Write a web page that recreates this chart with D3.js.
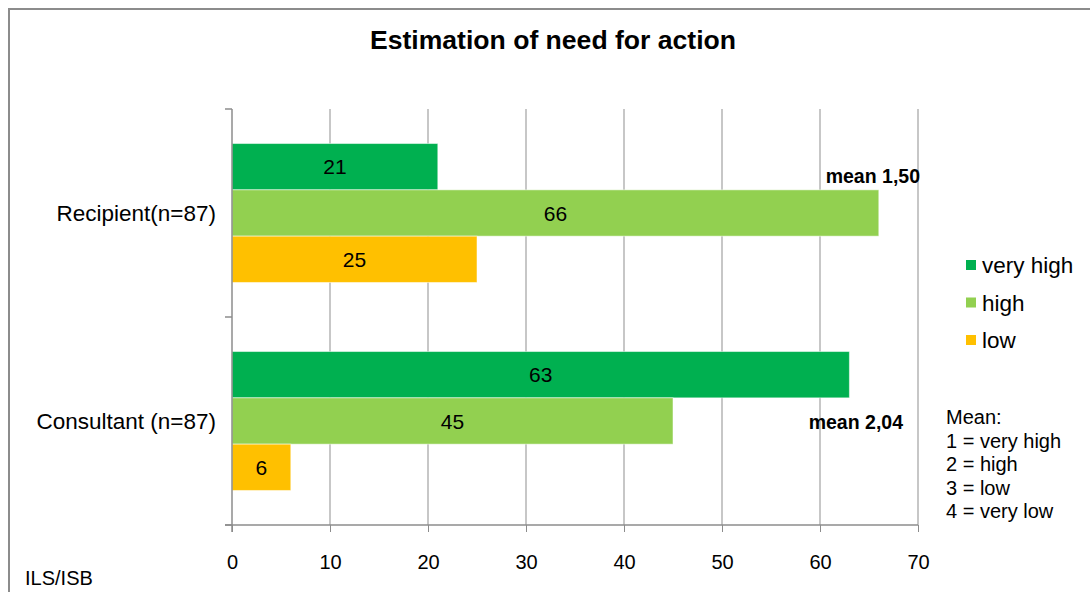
<html>
    <head>
        <title>Estimation of need for action</title>
        <style>
            body { margin: 0; background: #fff; }
            svg text { font-family: "Liberation Sans", Arial, sans-serif; fill: #000; }
        </style>
    </head>
    <body>
        <svg class="chart"></svg>
        <script src="https://d3js.org/d3.v7.min.js"></script>
        <script>
            var categories = ['Recipient(n=87)', 'Consultant (n=87)'];
            var seriesNames = ['very high', 'high', 'low'];
            var seriesColors = ['#00B050', '#92D050', '#FFC000'];
            var veryHigh = [21, 63];
            var high = [66, 45];
            var low = [25, 6];
            var means = ['mean 1,50', 'mean 2,04'];
            var xTicks = [0, 10, 20, 30, 40, 50, 60, 70];
            var meanNotes = ['Mean:', '1 = very high', '2 = high', '3 = low', '4 = very low'];

            var series = [veryHigh, high, low];
            var width = 1090, height = 592;

            var svg = d3.select('.chart')
                .attr('width', width)
                .attr('height', height);

            // outer frame
            svg.append('rect')
                .attr('x', 9).attr('y', 9)
                .attr('width', width + 10).attr('height', height + 10)
                .attr('fill', 'none')
                .attr('stroke', '#8c8c8c')
                .attr('stroke-width', 2);

            svg.append('text')
                .attr('x', 553).attr('y', 49)
                .attr('text-anchor', 'middle')
                .style('font-size', '25px')
                .style('font-weight', 'bold')
                .attr('textLength', 366)
                .attr('lengthAdjust', 'spacingAndGlyphs')
                .text('Estimation of need for action');

            var x = d3.scaleLinear().domain([0, 70]).range([232, 918]);
            var y = d3.scaleBand().domain(categories).range([109, 525])
                .paddingInner(0.332).paddingOuter(0.166);
            var ySub = d3.scaleBand().domain(d3.range(series.length)).range([0, y.bandwidth()]);

            // gridlines
            svg.append('g').selectAll('line').data(xTicks.slice(1)).enter()
                .append('line')
                .attr('x1', function(d) { return x(d); })
                .attr('x2', function(d) { return x(d); })
                .attr('y1', 109).attr('y2', 525)
                .attr('stroke', '#8f8f8f').attr('stroke-width', 1);

            // bars
            var groups = svg.append('g').selectAll('g').data(categories).enter()
                .append('g')
                .attr('transform', function(d) { return 'translate(0,' + y(d) + ')'; });

            groups.each(function(cat, ci) {
                var g = d3.select(this);
                series.forEach(function(s, si) {
                    g.append('rect')
                        .attr('x', x(0))
                        .attr('y', ySub(si))
                        .attr('width', x(s[ci]) - x(0))
                        .attr('height', ySub.bandwidth())
                        .attr('fill', seriesColors[si])
                        .attr('stroke', '#ffffff')
                        .attr('stroke-opacity', 0.5)
                        .attr('stroke-width', 1);
                    g.append('text')
                        .attr('x', (x(s[ci]) + x(0)) / 2)
                        .attr('y', ySub(si) + ySub.bandwidth() / 2)
                        .attr('dy', '0.36em')
                        .attr('text-anchor', 'middle')
                        .style('font-size', '21px')
                        .text(s[ci]);
                });
            });

            // mean annotations
            svg.append('text')
                .attr('x', 920).attr('y', y(categories[0]) + ySub(0) + ySub.bandwidth() - 7)
                .attr('text-anchor', 'end')
                .style('font-size', '19.5px').style('font-weight', 'bold')
                .text(means[0]);
            svg.append('text')
                .attr('x', 903).attr('y', y(categories[1]) + ySub(1) + ySub.bandwidth() / 2 + 8)
                .attr('text-anchor', 'end')
                .style('font-size', '19.5px').style('font-weight', 'bold')
                .text(means[1]);

            // y axis
            var yAxis = svg.append('g').attr('transform', 'translate(232,0)');
            yAxis.append('line').attr('x1', 0).attr('x2', 0).attr('y1', 109).attr('y2', 532)
                .attr('stroke', '#8c8c8c').attr('stroke-width', 1.5);
            var yEdges = [109, 109 + y.step(), 525];
            yAxis.selectAll('.tk').data(yEdges).enter().append('line')
                .attr('x1', -7).attr('x2', 0)
                .attr('y1', function(d) { return d; }).attr('y2', function(d) { return d; })
                .attr('stroke', '#8c8c8c').attr('stroke-width', 1.5);
            yAxis.selectAll('.lbl').data(categories).enter().append('text')
                .attr('x', -16)
                .attr('y', function(d) { return y(d) + y.bandwidth() / 2; })
                .attr('dy', '0.36em')
                .attr('text-anchor', 'end')
                .style('font-size', '22.5px')
                .text(function(d) { return d; });

            // x axis
            var xAxis = svg.append('g').attr('transform', 'translate(0,525)')
                .call(d3.axisBottom(x).tickValues(xTicks).tickSize(7).tickPadding(23).tickSizeOuter(0));
            xAxis.select('.domain').attr('d', 'M225,0H918').attr('stroke', '#8c8c8c').attr('stroke-width', 1.5);
            xAxis.selectAll('.tick line').attr('stroke', '#8c8c8c');
            xAxis.selectAll('.tick text')
                .style('font-size', '20px')
                .style('font-family', '"Liberation Sans", Arial, sans-serif')
                .attr('fill', '#000');

            // legend
            var legend = svg.append('g').selectAll('g').data(seriesNames).enter()
                .append('g')
                .attr('transform', function(d, i) { return 'translate(966,' + (265 + i * 37.5) + ')'; });
            legend.append('rect')
                .attr('x', 0).attr('y', -5).attr('width', 10).attr('height', 10)
                .attr('fill', function(d, i) { return seriesColors[i]; });
            legend.append('text')
                .attr('x', 16).attr('dy', '0.36em')
                .style('font-size', '22.5px')
                .text(function(d) { return d; });

            svg.append('g').selectAll('text').data(meanNotes).enter()
                .append('text')
                .attr('x', 946)
                .attr('y', function(d, i) { return 417 + i * 23.5; })
                .attr('dy', '0.36em')
                .style('font-size', '20px')
                .text(function(d) { return d; });

            svg.append('text')
                .attr('x', 25).attr('y', 585)
                .style('font-size', '20px')
                .text('ILS/ISB');
        </script>
    </body>
</html>
